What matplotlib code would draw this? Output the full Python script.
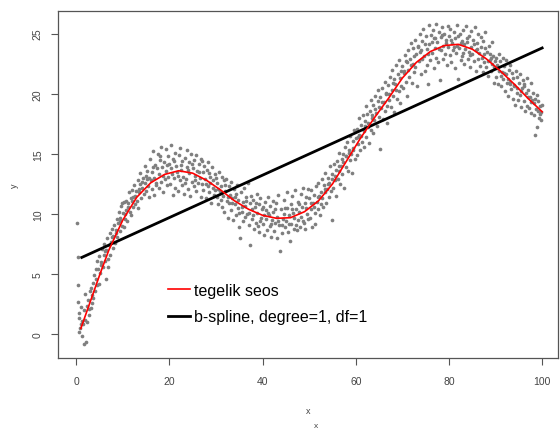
import matplotlib
matplotlib.use('Agg')
import matplotlib.pyplot as plt
import numpy as np

plt.rcParams['font.family'] = ['Liberation Sans', 'DejaVu Sans']

# vaatlused (x, y), loetud pildilt lõikude kaupa
seg_a = [(0.2, 9.3), (0.3, 6.4), (0.4, 4.1), (0.4, 2.7), (0.5, 1.4), (0.6, 0.2), (0.7, 1.8),
         (0.9, 0.5), (1.0, 2.3), (1.2, 1.1), (1.3, -0.1), (1.5, 0.9), (1.6, 2.0), (1.7, -0.8),
         (1.8, 3.4), (2.0, 1.2), (2.1, -0.6), (2.3, 2.4), (2.4, 1.0), (2.6, 2.9), (2.8, 1.6),
         (2.9, 3.6), (3.1, 2.2), (3.2, 3.9), (3.4, 2.6), (3.6, 4.3), (3.7, 3.0), (3.9, 4.9),
         (4.0, 3.6), (4.2, 5.4), (4.4, 4.1), (4.5, 6.1), (4.7, 5.4), (4.9, 4.2), (5.0, 6.5),
         (5.2, 5.1), (5.4, 6.0), (5.5, 7.1), (5.7, 5.6), (5.9, 6.6), (6.0, 7.5), (6.2, 6.1),
         (6.4, 4.6), (6.5, 7.0), (6.7, 8.0), (6.8, 5.6), (7.0, 7.4), (7.2, 6.6), (7.3, 8.4),
         (7.5, 7.7), (7.7, 8.8), (7.8, 7.2), (8.0, 8.2), (8.2, 9.1), (8.3, 7.6), (8.5, 8.7),
         (8.7, 9.6), (8.8, 8.1), (9.0, 9.3), (9.2, 10.2), (9.3, 8.6), (9.5, 9.7), (9.7, 10.7),
         (9.8, 9.0)]
seg_b = [(10.0, 10.1), (10.2, 8.9), (10.3, 11.0), (10.5, 9.6), (10.7, 11.1), (10.8, 10.3),
         (11.0, 9.4), (11.2, 10.9), (11.3, 11.8), (11.5, 10.2), (11.7, 11.3), (11.8, 9.9),
         (12.0, 12.0), (12.2, 10.6), (12.3, 11.4), (12.5, 12.4), (12.7, 10.8), (12.8, 11.9),
         (13.0, 11.1), (13.2, 12.8), (13.3, 10.5), (13.5, 11.8), (13.7, 12.5), (13.8, 13.4),
         (14.0, 11.3), (14.2, 12.2), (14.3, 13.0), (14.5, 11.7), (14.7, 12.6), (14.8, 14.0),
         (15.0, 11.9), (15.2, 12.9), (15.3, 13.6), (15.5, 12.3), (15.7, 11.4), (15.8, 14.6),
         (16.0, 12.8), (16.2, 13.5), (16.3, 12.1), (16.5, 15.2), (16.7, 13.0), (16.8, 11.6),
         (17.0, 14.1), (17.2, 12.6), (17.3, 13.8), (17.5, 15.0), (17.7, 12.2), (17.8, 13.3),
         (18.0, 14.5), (18.2, 12.7), (18.3, 15.6), (18.5, 13.9), (18.7, 11.8), (18.8, 14.3),
         (19.0, 12.9), (19.2, 15.4), (19.3, 13.6), (19.5, 12.4), (19.7, 14.8), (19.8, 13.1)]
seg_c = [(20.0, 14.2), (20.2, 12.5), (20.3, 15.7), (20.5, 13.3), (20.7, 11.6), (20.8, 14.6),
         (21.0, 13.0), (21.2, 15.1), (21.3, 12.2), (21.5, 14.0), (21.7, 13.5), (21.8, 11.9),
         (22.0, 14.9), (22.2, 12.8), (22.3, 15.5), (22.5, 13.7), (22.7, 12.4), (22.8, 14.4),
         (23.0, 13.1), (23.2, 11.7), (23.3, 14.7), (23.5, 12.9), (23.7, 15.3), (23.8, 13.9),
         (24.0, 12.1), (24.2, 14.3), (24.3, 13.4), (24.5, 11.5), (24.7, 15.0), (24.8, 12.7),
         (25.0, 13.8), (25.2, 14.5), (25.3, 12.3), (25.5, 13.2), (25.7, 14.9), (25.8, 11.9),
         (26.0, 13.6), (26.2, 12.6), (26.3, 14.2), (26.5, 13.0), (26.7, 11.4), (26.8, 14.6),
         (27.0, 12.5), (27.2, 13.5), (27.3, 12.0), (27.5, 14.0), (27.7, 12.9), (27.8, 11.3),
         (28.0, 13.7), (28.2, 12.3), (28.3, 14.3), (28.5, 11.8), (28.7, 13.1), (28.8, 12.6),
         (29.0, 10.9), (29.2, 13.9), (29.3, 12.2), (29.5, 11.6), (29.7, 13.3), (29.8, 12.0)]
seg_d = [(30.0, 13.0), (30.2, 11.4), (30.3, 12.6), (30.5, 10.8), (30.7, 13.5), (30.8, 11.9),
         (31.0, 12.3), (31.2, 10.6), (31.3, 13.1), (31.5, 11.5), (31.7, 12.8), (31.8, 10.2),
         (32.0, 11.9), (32.2, 12.9), (32.3, 11.1), (32.5, 9.7), (32.7, 12.3), (32.8, 10.9),
         (33.0, 11.6), (33.2, 12.7), (33.3, 10.3), (33.5, 11.3), (33.7, 9.5), (33.8, 12.1),
         (34.0, 10.8), (34.2, 11.7), (34.3, 9.9), (34.5, 12.4), (34.7, 10.5), (34.8, 11.2),
         (35.0, 8.9), (35.2, 8.0), (35.3, 11.8), (35.5, 10.2), (35.7, 11.0), (35.8, 9.4),
         (36.0, 12.2), (36.2, 10.7), (36.3, 9.8), (36.5, 11.4), (36.7, 10.0), (36.8, 12.6),
         (37.0, 9.1), (37.2, 10.9), (37.4, 7.4), (37.5, 11.5), (37.7, 9.6), (37.8, 10.4),
         (38.0, 11.2), (38.2, 8.8), (38.3, 10.6), (38.5, 9.3), (38.7, 11.7), (38.8, 10.1),
         (39.0, 9.0), (39.2, 10.8), (39.3, 8.5), (39.5, 11.3), (39.7, 9.7), (39.8, 10.4)]
seg_e = [(40.0, 10.6), (40.2, 9.2), (40.3, 8.3), (40.5, 11.0), (40.7, 9.6), (40.8, 10.3),
         (41.0, 8.7), (41.2, 11.4), (41.3, 9.9), (41.5, 9.0), (41.7, 10.7), (41.8, 8.1),
         (42.0, 9.5), (42.2, 11.1), (42.3, 10.2), (42.5, 8.6), (42.7, 9.3), (42.8, 10.9),
         (43.0, 8.0), (43.2, 9.8), (43.3, 11.6), (43.5, 9.1), (43.8, 6.9), (44.0, 10.4),
         (44.2, 8.4), (44.3, 9.6), (44.5, 11.2), (44.7, 10.0), (44.8, 8.9), (45.0, 9.4),
         (45.2, 11.8), (45.3, 10.5), (45.5, 8.5), (45.7, 9.9), (45.8, 7.8), (46.0, 10.8),
         (46.2, 9.2), (46.3, 11.5), (46.5, 10.1), (46.7, 8.8), (46.8, 9.7), (47.0, 12.0),
         (47.2, 10.4), (47.3, 8.7), (47.5, 9.5), (47.7, 11.0), (47.8, 10.2), (48.0, 8.9),
         (48.2, 11.7), (48.3, 9.8), (48.5, 10.6), (48.7, 12.2), (48.8, 9.3), (49.0, 10.9),
         (49.2, 8.8), (49.3, 11.4), (49.5, 10.0), (49.7, 12.1), (49.8, 9.6)]
seg_f = [(50.0, 11.3), (50.2, 9.7), (50.3, 10.4), (50.5, 12.0), (50.7, 8.9), (50.8, 10.9),
         (51.0, 11.6), (51.2, 10.1), (51.3, 9.2), (51.5, 12.3), (51.7, 11.0), (51.8, 10.4),
         (52.0, 12.6), (52.2, 11.5), (52.3, 9.9), (52.5, 10.8), (52.7, 12.9), (52.8, 11.3),
         (53.0, 10.6), (53.2, 12.4), (53.3, 11.8), (53.5, 13.4), (53.7, 10.9), (53.8, 12.1),
         (54.0, 13.0), (54.2, 11.4), (54.3, 12.6), (54.5, 14.0), (54.7, 11.9), (54.8, 9.5),
         (55.0, 13.3), (55.2, 12.2), (55.3, 14.2), (55.5, 12.8), (55.7, 13.7), (55.8, 11.5),
         (56.0, 14.4), (56.2, 12.9), (56.3, 13.6), (56.5, 15.1), (56.7, 12.5), (56.8, 14.0),
         (57.0, 13.3), (57.2, 15.0), (57.3, 14.3), (57.5, 12.2), (57.7, 15.6), (57.8, 13.9),
         (58.0, 14.8), (58.2, 16.0), (58.3, 13.6), (58.5, 15.3), (58.7, 14.5), (58.8, 16.5),
         (59.0, 15.0), (59.2, 13.4), (59.3, 16.1), (59.5, 15.5), (59.7, 17.0), (59.8, 14.6)]
seg_g = [(60.0, 16.3), (60.2, 14.9), (60.3, 17.1), (60.5, 15.8), (60.7, 16.6), (60.8, 18.0),
         (61.0, 15.3), (61.2, 17.4), (61.3, 16.0), (61.5, 18.2), (61.7, 16.9), (61.8, 15.6),
         (62.0, 17.7), (62.2, 19.0), (62.3, 16.4), (62.5, 18.3), (62.7, 17.2), (62.8, 15.9),
         (63.0, 18.6), (63.2, 17.0), (63.3, 19.5), (63.5, 18.0), (63.7, 16.7), (63.8, 19.1),
         (64.0, 17.8), (64.2, 19.8), (64.3, 18.4), (64.5, 17.3), (64.7, 19.4), (64.8, 20.3),
         (65.0, 18.1), (65.2, 15.4), (65.3, 19.7), (65.5, 18.8), (65.7, 20.5), (65.8, 17.9),
         (66.0, 19.3), (66.2, 21.0), (66.3, 18.6), (66.5, 20.0), (66.7, 19.0), (66.8, 17.6),
         (67.0, 20.7), (67.2, 19.5), (67.3, 21.4), (67.5, 18.9), (67.7, 20.3), (67.8, 22.0),
         (68.0, 19.8), (68.2, 21.2), (68.3, 18.5), (68.5, 20.8), (68.7, 22.4), (68.8, 19.6),
         (69.0, 21.6), (69.2, 20.2), (69.3, 22.8), (69.5, 19.2), (69.7, 21.9), (69.8, 20.6)]
seg_h = [(70.0, 22.3), (70.2, 20.5), (70.3, 21.7), (70.5, 23.2), (70.7, 21.0), (70.8, 22.7),
         (71.0, 19.8), (71.2, 22.0), (71.3, 23.6), (71.5, 21.4), (71.7, 22.9), (71.8, 24.2),
         (72.0, 20.9), (72.2, 22.5), (72.3, 23.8), (72.5, 21.8), (72.7, 24.5), (72.8, 22.2),
         (73.0, 23.3), (73.2, 20.6), (73.3, 24.0), (73.5, 22.7), (73.7, 25.0), (73.8, 23.5),
         (74.0, 21.6), (74.2, 24.4), (74.3, 22.9), (74.5, 25.4), (74.7, 23.1), (74.8, 21.9),
         (75.0, 24.8), (75.2, 23.7), (75.3, 22.4), (75.5, 20.8), (75.7, 25.7), (75.8, 24.1),
         (76.0, 22.8), (76.2, 24.9), (76.3, 23.4), (76.5, 25.3), (76.7, 22.1), (76.8, 24.6),
         (77.0, 23.8), (77.2, 25.8), (77.3, 23.0), (77.5, 24.3), (77.7, 22.6), (77.8, 25.1),
         (78.0, 21.1), (78.2, 24.7), (78.3, 23.6), (78.5, 25.5), (78.7, 22.9), (78.8, 24.0),
         (79.0, 25.0), (79.2, 23.3), (79.3, 24.5), (79.5, 22.4), (79.7, 25.6), (79.8, 23.9)]
seg_i = [(80.0, 24.8), (80.2, 23.2), (80.3, 25.4), (80.5, 22.6), (80.7, 24.2), (80.8, 23.6),
         (81.0, 25.1), (81.2, 22.1), (81.3, 24.6), (81.5, 23.4), (81.7, 25.7), (81.8, 24.0),
         (82.0, 21.2), (82.2, 23.8), (82.3, 25.0), (82.5, 22.8), (82.7, 24.4), (82.8, 23.1),
         (83.0, 25.3), (83.2, 24.1), (83.3, 22.5), (83.5, 23.7), (83.7, 25.6), (83.8, 24.3),
         (84.0, 22.9), (84.2, 23.5), (84.3, 24.8), (84.5, 22.2), (84.7, 23.9), (84.8, 25.2),
         (85.0, 23.3), (85.2, 24.5), (85.3, 22.7), (85.5, 25.5), (85.7, 23.6), (85.8, 21.9),
         (86.0, 24.2), (86.2, 22.9), (86.3, 25.0), (86.5, 23.4), (86.7, 22.3), (86.8, 24.7),
         (87.0, 23.0), (87.2, 21.8), (87.3, 24.4), (87.5, 22.6), (87.7, 23.8), (87.8, 25.1),
         (88.0, 22.2), (88.2, 23.5), (88.3, 21.5), (88.5, 24.0), (88.7, 22.8), (88.8, 23.3),
         (89.0, 21.9), (89.2, 24.3), (89.3, 22.5), (89.5, 23.1), (89.7, 20.9), (89.8, 22.7)]
seg_j = [(90.0, 23.0), (90.2, 21.4), (90.3, 22.4), (90.5, 20.8), (90.7, 23.3), (90.8, 21.9),
         (91.0, 22.7), (91.2, 20.6), (91.3, 21.8), (91.5, 23.0), (91.7, 21.2), (91.8, 22.3),
         (92.0, 20.2), (92.2, 21.6), (92.3, 22.8), (92.5, 20.9), (92.7, 19.8), (92.8, 22.0),
         (93.0, 21.0), (93.2, 22.4), (93.3, 20.4), (93.5, 21.7), (93.7, 19.6), (93.8, 21.3),
         (94.0, 20.7), (94.2, 19.1), (94.3, 21.9), (94.5, 20.1), (94.7, 21.4), (94.8, 19.5),
         (95.0, 20.9), (95.2, 19.9), (95.3, 21.6), (95.5, 18.9), (95.7, 20.5), (95.8, 21.1),
         (96.0, 19.4), (96.2, 20.8), (96.3, 18.6), (96.5, 20.1), (96.7, 21.3), (96.8, 19.0),
         (97.0, 20.3), (97.2, 18.8), (97.3, 19.7), (97.5, 20.9), (97.7, 18.4), (97.8, 19.5),
         (98.0, 20.1), (98.2, 18.2), (98.3, 19.2), (98.5, 16.6), (98.7, 18.7), (98.8, 19.9),
         (99.0, 17.2), (99.2, 19.4), (99.3, 18.0), (99.5, 19.0), (99.7, 18.5), (99.8, 17.8),
         (100.0, 19.1)]
# tihedam tuum kõvera ümber
seg_core = [(1.1, 0.9), (2.7, 2.1), (3.5, 3.3), (4.3, 4.6), (5.3, 5.8), (6.1, 6.9), (6.9, 6.3),
            (7.6, 8.1), (8.6, 8.4), (9.4, 9.4), (9.9, 10.9),
            (10.4, 10.0), (11.1, 10.6), (11.9, 11.1), (12.6, 11.5), (13.4, 12.1), (14.1, 12.7),
            (14.9, 13.2), (15.6, 13.0), (16.4, 13.9), (17.1, 12.4), (17.9, 14.8), (18.6, 13.2),
            (19.4, 14.1),
            (20.4, 13.8), (21.1, 14.4), (21.9, 13.2), (22.6, 14.1), (23.4, 12.6), (24.1, 13.7),
            (24.9, 14.2), (25.6, 12.8), (26.4, 13.5), (27.1, 14.4), (27.9, 12.5), (28.6, 13.4),
            (29.4, 12.8),
            (30.4, 12.1), (31.1, 11.2), (31.9, 12.4), (32.6, 11.4), (33.4, 10.9), (34.1, 11.4),
            (34.9, 10.1), (35.6, 10.6), (36.4, 11.1), (37.1, 10.1), (37.9, 9.9), (38.6, 10.9),
            (39.4, 9.4),
            (40.4, 9.9), (41.1, 10.1), (41.9, 9.2), (42.6, 10.4), (43.4, 9.4), (44.1, 9.1),
            (44.9, 10.5), (45.6, 9.2), (46.4, 10.4), (47.1, 9.1), (47.9, 10.8), (48.6, 9.4),
            (49.4, 10.5),
            (50.4, 10.9), (51.1, 10.6), (51.9, 11.4), (52.6, 11.8), (53.4, 12.1), (54.1, 12.5),
            (54.9, 12.9), (55.6, 13.2), (56.4, 14.0), (57.1, 14.6), (57.9, 14.8), (58.6, 15.1),
            (59.4, 15.3),
            (60.4, 16.4), (61.1, 16.5), (61.9, 17.3), (62.6, 17.6), (63.4, 18.2), (64.1, 18.7),
            (64.9, 18.9), (65.6, 19.3), (66.4, 20.1), (67.1, 20.0), (67.9, 20.9), (68.6, 20.3),
            (69.4, 21.3),
            (70.4, 21.9), (71.1, 22.6), (71.9, 22.4), (72.6, 23.1), (73.4, 23.9), (74.1, 23.6),
            (74.9, 24.1), (75.6, 23.3), (76.4, 24.3), (77.1, 24.6), (77.9, 23.7), (78.6, 24.9),
            (79.4, 24.2),
            (80.4, 24.5), (81.1, 23.9), (81.9, 24.8), (82.6, 24.2), (83.1, 23.4), (83.9, 24.6),
            (84.6, 23.2), (85.4, 24.1), (86.1, 23.7), (86.9, 23.9), (87.6, 23.3), (88.4, 22.7),
            (89.1, 23.0), (89.6, 22.2),
            (90.4, 22.1), (91.1, 21.5), (91.9, 21.7), (92.6, 21.2), (93.1, 20.8), (93.9, 20.6),
            (94.6, 20.5), (95.4, 20.2), (96.1, 20.6), (96.9, 19.7), (97.6, 19.3), (98.4, 19.6),
            (99.1, 18.6), (99.6, 18.3)]

# tegelik seos (punane kõver)
true_x = [1, 3, 5, 7, 10, 13, 16, 19, 22, 25, 28, 31, 34, 37, 40, 43, 46, 49, 52, 55,
          58, 61, 64, 67, 70, 73, 76, 79, 82, 85, 88, 91, 94, 97, 100]
true_y = [0.5, 2.7, 4.9, 7.0, 9.5, 11.4, 12.6, 13.3, 13.6, 13.4, 12.8, 12.0, 11.1, 10.4,
          9.9, 9.65, 9.7, 10.2, 11.1, 12.5, 14.4, 16.3, 18.0, 19.6, 21.3, 22.6, 23.5, 24.0,
          24.1, 23.7, 22.9, 21.9, 20.8, 19.6, 18.5]

# b-spline, degree=1, df=1 (sirge)
fit_x = [1.2, 100]
fit_y = [6.4, 23.8]

xticks = [0, 20, 40, 60, 80, 100]
yticks = [0, 5, 10, 15, 20, 25]

pts = np.array(seg_a + seg_b + seg_c + seg_d + seg_e + seg_f + seg_g + seg_h + seg_i + seg_j
               + seg_core)

fig = plt.figure(figsize=(5.6, 4.31), dpi=100)
ax = fig.add_axes([58 / 560, 1 - 358.6 / 431, 500 / 560, 346.6 / 431])

ax.scatter(pts[:, 0], pts[:, 1], s=7, color='#7f7f7f', linewidths=0, zorder=2)
l_fit, = ax.plot(fit_x, fit_y, color='black', lw=2.0, zorder=3)
l_true, = ax.plot(true_x, true_y, color='red', lw=1.2, zorder=4)

ax.set_xlim(-3.9, 103.4)
ax.set_ylim(-1.92, 26.87)
ax.set_xticks(xticks)
ax.set_yticks(yticks)
ax.tick_params(axis='both', direction='out', length=5, width=0.8, color='#555555',
               labelcolor='#444444', labelsize=7.5)
ax.tick_params(axis='x', pad=8)
ax.tick_params(axis='y', pad=6)
for lab in ax.get_yticklabels():
    lab.set_rotation(90)
    lab.set_va('center')
for sp in ax.spines.values():
    sp.set_color('#555555')
    sp.set_linewidth(0.9)

ax.set_xlabel('x', fontsize=6.5, color='#444444', labelpad=15)
ax.set_ylabel('y', fontsize=6.5, color='#444444', labelpad=10)
fig.text(316 / 560, 1 - 427 / 431, 'x', fontsize=6, color='#444444', ha='center', va='center')

ax.legend([l_true, l_fit], ['tegelik seos', 'b-spline, degree=1, df=1'],
          loc='upper left', bbox_to_anchor=(0.22, 0.215), frameon=False,
          fontsize=11.5, borderpad=0, borderaxespad=0, handlelength=1.4,
          handletextpad=0.25, labelspacing=0.7)

fig.savefig('out.png', dpi=100)
